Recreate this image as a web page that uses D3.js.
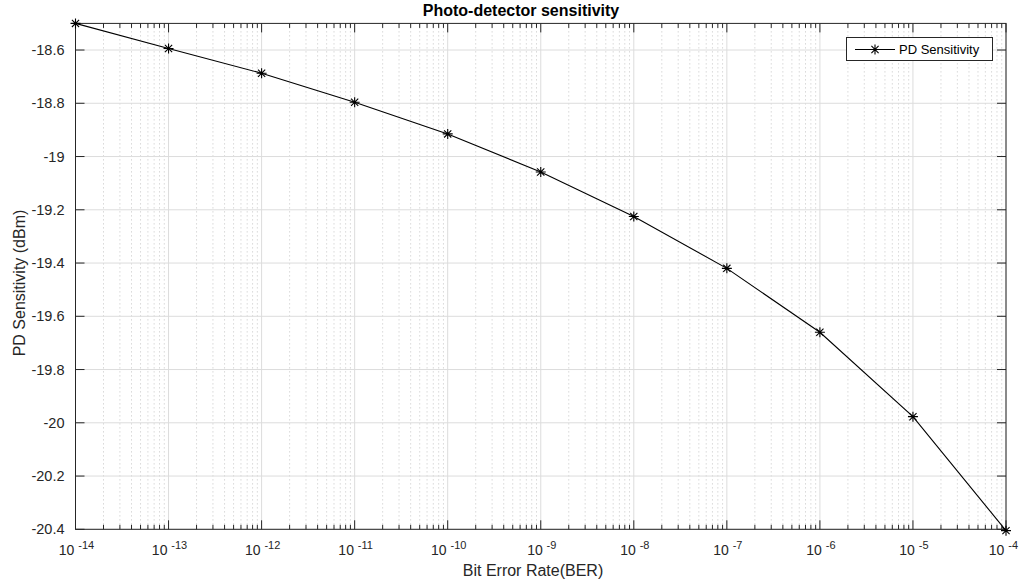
<!DOCTYPE html>
<html><head><meta charset="utf-8">
<script src="https://cdn.jsdelivr.net/npm/d3@7"></script>
<style>body{margin:0;background:#fff}svg{display:block}text{font-family:"Liberation Sans",Arial,Helvetica,sans-serif}</style>
</head><body>
<svg id="c" width="1020" height="585"></svg>
<script>
const berExp = [-14,-13,-12,-11,-10,-9,-8,-7,-6,-5,-4];
const sensitivity = [-18.5,-18.594,-18.687,-18.796,-18.915,-19.058,-19.225,-19.42,-19.66,-19.977,-20.405];
const yTicks = [-18.6,-18.8,-19,-19.2,-19.4,-19.6,-19.8,-20,-20.2,-20.4];
const seriesName = "PD Sensitivity";
const titleText = "Photo-detector sensitivity";
const xLabel = "Bit Error Rate(BER)";
const yLabel = "PD Sensitivity (dBm)";

const svg = d3.select("#c");
const L=75.5, R=1006, T=23.4, B=529.3;
const x = d3.scaleLog().domain([1e-14,1e-4]).range([L,R]);
const y = d3.scaleLinear().domain([-18.5,-20.4]).range([T,B]);

const minor=[];
for(let e=-14;e<-4;e++){for(let k=2;k<=9;k++)minor.push(k*Math.pow(10,e));}
const major = berExp.map(e=>Math.pow(10,e));

const g = svg.append("g");
g.selectAll("line.mg").data(minor).join("line")
 .attr("x1",d=>x(d)).attr("x2",d=>x(d)).attr("y1",T).attr("y2",B)
 .attr("stroke","#c4c4c4").attr("stroke-width",1).attr("stroke-dasharray","1,3");
g.selectAll("line.Mg").data(major).join("line")
 .attr("x1",d=>x(d)).attr("x2",d=>x(d)).attr("y1",T).attr("y2",B)
 .attr("stroke","#dcdcdc").attr("stroke-width",1);
g.selectAll("line.yg").data(yTicks).join("line")
 .attr("x1",L).attr("x2",R).attr("y1",d=>y(d)).attr("y2",d=>y(d))
 .attr("stroke","#dcdcdc").attr("stroke-width",1);

const axc="#262626";
const tk=svg.append("g").attr("stroke",axc).attr("stroke-width",1);
minor.forEach(d=>{
  tk.append("line").attr("x1",x(d)).attr("x2",x(d)).attr("y1",B).attr("y2",B-4.5);
  tk.append("line").attr("x1",x(d)).attr("x2",x(d)).attr("y1",T).attr("y2",T+4.5);
});
major.forEach(d=>{
  tk.append("line").attr("x1",x(d)).attr("x2",x(d)).attr("y1",B).attr("y2",B-9);
  tk.append("line").attr("x1",x(d)).attr("x2",x(d)).attr("y1",T).attr("y2",T+9);
});
yTicks.forEach(d=>{
  tk.append("line").attr("x1",L).attr("x2",L+9).attr("y1",y(d)).attr("y2",y(d));
  tk.append("line").attr("x1",R).attr("x2",R-9).attr("y1",y(d)).attr("y2",y(d));
});
svg.append("rect").attr("x",L).attr("y",T).attr("width",R-L).attr("height",B-T)
 .attr("fill","none").attr("stroke",axc).attr("stroke-width",1);

svg.append("g").selectAll("text").data(yTicks).join("text")
 .attr("x",L-11).attr("y",d=>y(d)+5).attr("text-anchor","end")
 .attr("font-size",14.5).attr("fill","#262626").text(d=>String(d));

const xl=svg.append("g");
berExp.forEach(e=>{
  const t=xl.append("text").attr("x",0).attr("y",555)
   .attr("font-size",14).attr("fill","#262626");
  t.append("tspan").text("10 ");
  t.append("tspan").attr("dy",-6).attr("font-size",11).text(String(e));
  const bb=t.node().getBBox();
  let x0=x(Math.pow(10,e))-bb.width/2+1;
  if(x0+bb.width>1018) x0=1018-bb.width;
  t.attr("x",x0);
});

const data = berExp.map((e,i)=>({x:Math.pow(10,e),y:sensitivity[i]}));
svg.append("path").datum(data).attr("fill","none").attr("stroke","#000").attr("stroke-width",1.1)
 .attr("d",d3.line().x(d=>x(d.x)).y(d=>y(d.y)));
function star(gs,cx,cy,r){
  const p=`M${cx-r},${cy}L${cx+r},${cy}M${cx},${cy-r}L${cx},${cy+r}M${cx-r*0.72},${cy-r*0.72}L${cx+r*0.72},${cy+r*0.72}M${cx-r*0.72},${cy+r*0.72}L${cx+r*0.72},${cy-r*0.72}`;
  gs.append("path").attr("d",p).attr("stroke","#000").attr("stroke-width",1.1).attr("fill","none");
}
const mk=svg.append("g");
data.forEach(d=>star(mk,x(d.x),y(d.y),5));

const lg=svg.append("g");
lg.append("rect").attr("x",846.5).attr("y",37.5).attr("width",146).attr("height",23)
 .attr("fill","#fff").attr("stroke","#262626").attr("stroke-width",1);
lg.append("line").attr("x1",855).attr("x2",895).attr("y1",49.5).attr("y2",49.5).attr("stroke","#000").attr("stroke-width",1.1);
star(lg,875,49.5,5);
lg.append("text").attr("x",899).attr("y",54).attr("font-size",13).attr("fill","#000").text(seriesName);

svg.append("text").attr("x",521).attr("y",16).attr("text-anchor","middle").attr("font-size",16)
 .attr("font-weight","bold").attr("fill","#000").text(titleText);
svg.append("text").attr("x",533).attr("y",576).attr("text-anchor","middle").attr("font-size",16)
 .attr("fill","#262626").text(xLabel);
svg.append("text").attr("transform",`translate(25,283) rotate(-90)`).attr("text-anchor","middle")
 .attr("font-size",16).attr("fill","#262626").text(yLabel);
</script>
</body></html>
